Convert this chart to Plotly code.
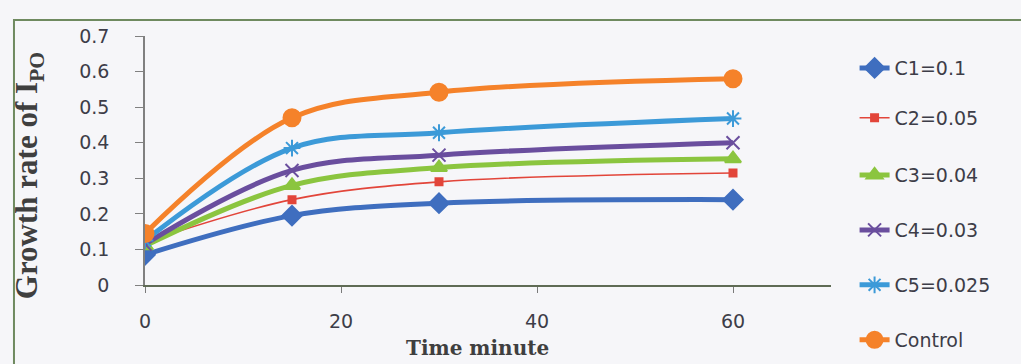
import plotly.graph_objects as go

# Sampling times (minutes)
time_min = [0, 15, 30, 60]

# Growth rate of I_PO for each inhibitor concentration
c1_values = [0.085, 0.195, 0.23, 0.24]
c2_values = [0.12, 0.24, 0.29, 0.315]
c3_values = [0.11, 0.28, 0.33, 0.355]
c4_values = [0.115, 0.322, 0.365, 0.40]
c5_values = [0.125, 0.385, 0.428, 0.468]
control_values = [0.145, 0.47, 0.542, 0.58]

series_names = ["C1=0.1", "C2=0.05", "C3=0.04", "C4=0.03", "C5=0.025", "Control"]
series_values = [c1_values, c2_values, c3_values, c4_values, c5_values, control_values]

x_tick_values = [0, 20, 40, 60]
y_tick_values = [0, 0.1, 0.2, 0.3, 0.4, 0.5, 0.6, 0.7]
y_tick_labels = ["0", "0.1", "0.2", "0.3", "0.4", "0.5", "0.6", "0.7"]

styles = [
    dict(color="#3f6ebf", width=5, symbol="diamond", size=15),
    dict(color="#e2453a", width=1.6, symbol="square", size=7),
    dict(color="#8bc53f", width=5, symbol="triangle-up", size=14),
    dict(color="#6a4e9e", width=5, symbol="x-thin-open", size=13),
    dict(color="#3c9ad8", width=5, symbol="asterisk-open", size=14),
    dict(color="#f5822a", width=5, symbol="circle", size=17),
]

# vertical centre of each legend entry, as a fraction of the figure height
legend_y = [0.813, 0.676, 0.519, 0.368, 0.217, 0.066]

text_font = dict(family="'DejaVu Sans', sans-serif", size=19, color="#3d3d48")

fig = go.Figure()
layout_legends = {}
for i, (name, vals, st) in enumerate(zip(series_names, series_values, styles)):
    legend_id = "legend" if i == 0 else f"legend{i + 1}"
    fig.add_trace(go.Scatter(
        x=time_min, y=vals, name=name, mode="lines+markers",
        line=dict(color=st["color"], width=st["width"], shape="spline", smoothing=1.0),
        marker=dict(symbol=st["symbol"], size=st["size"], color=st["color"],
                    line=dict(color=st["color"], width=2)),
        legend=legend_id,
    ))
    layout_legends[legend_id] = dict(
        xref="container", yref="container",
        x=0.837, y=legend_y[i], xanchor="left", yanchor="middle",
        font=text_font, bgcolor="rgba(0,0,0,0)", borderwidth=0,
    )

fig.update_layout(
    width=1021, height=364,
    margin=dict(l=145, r=190, t=36, b=79),
    paper_bgcolor="#f6f6f9",
    plot_bgcolor="#f6f6f9",
    showlegend=True,
    xaxis=dict(
        range=[0, 70], tickvals=x_tick_values, ticktext=[str(v) for v in x_tick_values],
        showgrid=False, zeroline=False, showline=True, linecolor="#5f6b55", linewidth=2,
        ticks="outside", ticklen=6, tickcolor="#7a7a7a", tickfont=text_font,
        ticklabelstandoff=12,
    ),
    yaxis=dict(
        range=[0, 0.7], tickvals=y_tick_values, ticktext=y_tick_labels,
        showgrid=False, zeroline=False, showline=True, linecolor="#808080", linewidth=1.5,
        ticks="outside", ticklen=8, tickcolor="#808080", tickfont=text_font,
        ticklabelstandoff=22,
    ),
    shapes=[
        dict(type="rect", xref="paper", yref="paper",
             x0=-0.191, x1=1.3, y0=-0.36, y1=1.064,
             line=dict(color="#6f8a60", width=2), fillcolor="rgba(0,0,0,0)", layer="below"),
    ],
    annotations=[
        dict(text="<b>Growth rate of I<sub>PO</sub></b>", xref="paper", yref="paper",
             x=-0.168, y=0.44, xanchor="center", yanchor="middle", textangle=-90, showarrow=False,
             font=dict(family="'Liberation Serif', 'Times New Roman', serif", size=31, color="#3f3f3f")),
        dict(text="<b>Time minute</b>", xref="paper", yref="paper",
             x=0.484, y=-0.309, xanchor="center", yanchor="bottom", showarrow=False,
             font=dict(family="'DejaVu Serif', serif", size=20, color="#3f3f3f")),
    ],
    **layout_legends,
)

fig.write_html("out.html")
